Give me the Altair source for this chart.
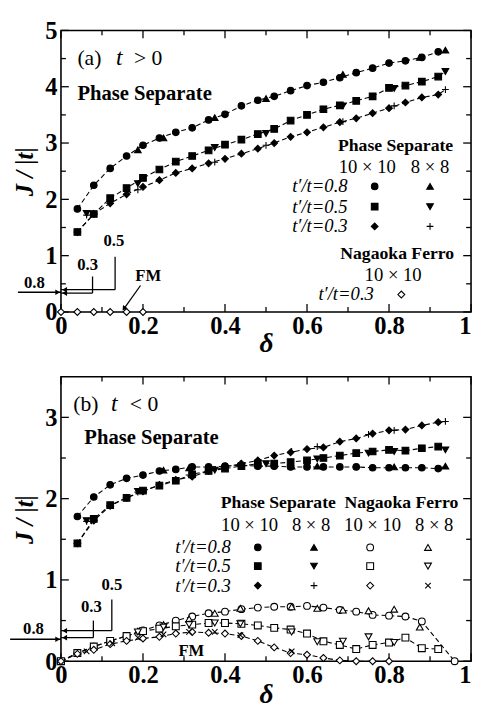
import altair as alt
import pandas as pd

FONT = "Liberation Serif"

# ---------------- Panel (a): t > 0 ----------------
a_d10 = [0.04, 0.08, 0.12, 0.16, 0.20, 0.24, 0.28, 0.32, 0.36, 0.40, 0.44, 0.48,
         0.52, 0.56, 0.60, 0.64, 0.68, 0.72, 0.76, 0.80, 0.84, 0.88, 0.92]
a_ps10_08 = [1.83, 2.25, 2.55, 2.77, 2.96, 3.09, 3.19, 3.27, 3.41, 3.51, 3.66, 3.76,
             3.83, 3.93, 4.02, 4.08, 4.16, 4.25, 4.33, 4.42, 4.46, 4.52, 4.62]
a_ps10_05 = [1.42, 1.74, 2.02, 2.20, 2.38, 2.53, 2.67, 2.77, 2.87, 2.97, 3.06, 3.16,
             3.25, 3.40, 3.50, 3.60, 3.67, 3.75, 3.83, 3.98, 4.02, 4.09, 4.18]
a_ps10_03 = [1.42, 1.74, 1.93, 2.09, 2.22, 2.34, 2.47, 2.55, 2.64, 2.72, 2.81, 2.90,
             3.00, 3.11, 3.19, 3.28, 3.37, 3.44, 3.53, 3.62, 3.72, 3.81, 3.86]
a_d8 = [0.0625, 0.1875, 0.375, 0.5, 0.6875, 0.8125, 0.9375]
a_d8_08 = [0.1875, 0.25, 0.375, 0.5, 0.6875, 0.875, 0.9375]
a_ps8_08 = [2.88, 3.09, 3.45, 3.79, 4.22, 4.52, 4.65]
a_ps8_05 = [1.75, 2.28, 2.92, 3.17, 3.66, 3.97, 4.27]
a_ps8_03 = [1.72, 2.17, 2.66, 2.96, 3.38, 3.66, 3.95]
a_nf_d = [0.0, 0.04, 0.08, 0.12, 0.16, 0.20]
a_nf10_03 = [0.0, 0.0, 0.0, 0.0, 0.0, 0.0]

# ---------------- Panel (b): t < 0 ----------------
b_d10 = a_d10
b_ps10_08 = [1.78, 2.02, 2.17, 2.25, 2.29, 2.34, 2.36, 2.39, 2.39, 2.40, 2.41, 2.40,
             2.40, 2.39, 2.39, 2.39, 2.39, 2.39, 2.38, 2.38, 2.38, 2.38, 2.37]
b_ps10_05 = [1.45, 1.75, 1.92, 2.01, 2.10, 2.16, 2.22, 2.30, 2.34, 2.37, 2.40, 2.43,
             2.43, 2.45, 2.47, 2.50, 2.53, 2.56, 2.58, 2.60, 2.59, 2.62, 2.64]
b_ps10_03 = [1.45, 1.73, 1.91, 2.01, 2.09, 2.17, 2.23, 2.27, 2.34, 2.39, 2.43, 2.47,
             2.53, 2.57, 2.61, 2.63, 2.70, 2.74, 2.80, 2.84, 2.85, 2.90, 2.94]
b_d8_08 = [0.25, 0.3125, 0.5625, 0.625, 0.8125, 0.9375]
b_ps8_08 = [2.35, 2.38, 2.40, 2.40, 2.39, 2.40]
b_d8_05 = [0.0625, 0.1875, 0.375, 0.5, 0.625, 0.75, 0.8125, 0.9375]
b_ps8_05 = [1.73, 2.09, 2.35, 2.43, 2.49, 2.56, 2.58, 2.60]
b_d8_03 = [0.0625, 0.1875, 0.3125, 0.4375, 0.5625, 0.625, 0.75, 0.8125, 0.9375]
b_ps8_03 = [1.72, 2.08, 2.29, 2.43, 2.58, 2.64, 2.79, 2.84, 2.95]

b_nf_d08 = [0.0, 0.04, 0.08, 0.12, 0.16, 0.20, 0.24, 0.28, 0.32, 0.36, 0.40, 0.44,
            0.48, 0.52, 0.56, 0.60, 0.64, 0.68, 0.72, 0.76, 0.80, 0.84, 0.88, 0.96]
b_nf10_08 = [0.0, 0.10, 0.18, 0.25, 0.31, 0.38, 0.44, 0.50, 0.55, 0.59, 0.61, 0.64,
             0.66, 0.67, 0.67, 0.68, 0.66, 0.63, 0.61, 0.57, 0.56, 0.55, 0.49, 0.0]
b_nf_d05 = [0.0, 0.04, 0.08, 0.12, 0.16, 0.20, 0.24, 0.28, 0.32, 0.36, 0.40, 0.44,
            0.48, 0.52, 0.56, 0.60, 0.64, 0.68, 0.72, 0.76, 0.80, 0.84, 0.88, 0.92]
b_nf10_05 = [0.0, 0.10, 0.18, 0.25, 0.31, 0.37, 0.40, 0.43, 0.45, 0.47, 0.47, 0.46,
             0.44, 0.41, 0.39, 0.34, 0.245, 0.20, 0.15, 0.20, 0.23, 0.29, 0.16, 0.15]
b_nf_d03 = [0.0, 0.04, 0.08, 0.12, 0.16, 0.20, 0.24, 0.28, 0.32, 0.36, 0.40, 0.44,
            0.48, 0.52, 0.56, 0.60, 0.64, 0.68, 0.72, 0.76, 0.80]
b_nf10_03 = [0.0, 0.09, 0.14, 0.21, 0.25, 0.28, 0.30, 0.34, 0.36, 0.35, 0.34, 0.31,
             0.25, 0.17, 0.10, 0.08, 0.04, 0.01, 0.0, 0.0, 0.0]
b_nf8_d08 = [0.1875, 0.25, 0.3125, 0.375, 0.4375, 0.5625, 0.625, 0.6875, 0.75, 0.8125, 0.875]
b_nf8_08 = [0.37, 0.45, 0.52, 0.59, 0.65, 0.67, 0.65, 0.63, 0.62, 0.64, 0.42]
b_nf8_d05 = [0.1875, 0.25, 0.3125, 0.375, 0.4375, 0.5625, 0.625, 0.6875, 0.75, 0.8125]
b_nf8_05 = [0.36, 0.42, 0.45, 0.47, 0.46, 0.36, 0.24, 0.245, 0.30, 0.23]
b_nf8_d03 = [0.0625, 0.125, 0.1875, 0.25, 0.3125, 0.375, 0.4375, 0.5625]
b_nf8_03 = [0.12, 0.22, 0.29, 0.33, 0.36, 0.36, 0.32, 0.12]

# tick values
X_MAJOR = [0, 0.2, 0.4, 0.6, 0.8, 1.0]
X_MINOR = [0.1, 0.3, 0.5, 0.7, 0.9]
A_Y_MAJOR = [0, 1, 2, 3, 4, 5]
A_Y_MINOR = [0.5, 1.5, 2.5, 3.5, 4.5]
B_Y_MAJOR = [0, 1, 2, 3]
B_Y_MINOR = [0.5, 1.5, 2.5]

# ---------------- symbol styles ----------------
PLUS = "M-1,0L1,0M0,-1L0,1"
CROSS = "M-0.8,-0.8L0.8,0.8M-0.8,0.8L0.8,-0.8"
KEYS = ["PS10_08", "PS8_08", "PS10_05", "PS8_05", "PS10_03", "PS8_03",
        "NF10_08", "NF8_08", "NF10_05", "NF8_05", "NF10_03", "NF8_03"]
SHAPES = ["circle", "triangle-up", "square", "triangle-down", "diamond", PLUS,
          "circle", "triangle-up", "square", "triangle-down", "diamond", CROSS]
FILLS = ["black", "black", "black", "black", "black", "white",
         "white", "white", "white", "white", "white", "white"]
SIZES = [45, 50, 38, 50, 70, 45, 24, 55, 30, 55, 80, 32]


def series_df(pairs):
    rows = []
    for key, ds, js in pairs:
        for d, j in zip(ds, js):
            rows.append({"d": d, "J": j, "s": key})
    return pd.DataFrame(rows)


def lines_df(pairs):
    rows = []
    for g, ds, js in pairs:
        for d, j in zip(ds, js):
            rows.append({"d": d, "J": j, "g": g})
    return pd.DataFrame(rows)


a_points = series_df([
    ("PS10_08", a_d10, a_ps10_08), ("PS8_08", a_d8_08, a_ps8_08),
    ("PS10_05", a_d10, a_ps10_05), ("PS8_05", a_d8, a_ps8_05),
    ("PS10_03", a_d10, a_ps10_03), ("PS8_03", a_d8, a_ps8_03),
    ("NF10_03", a_nf_d, a_nf10_03),
])
a_lines = lines_df([
    ("08", a_d10 + a_d8_08[-1:], a_ps10_08 + a_ps8_08[-1:]),
    ("05", a_d10 + a_d8[-1:], a_ps10_05 + a_ps8_05[-1:]),
    ("03", a_d10 + a_d8[-1:], a_ps10_03 + a_ps8_03[-1:]),
])
b_points = series_df([
    ("NF10_08", b_nf_d08, b_nf10_08), ("NF8_08", b_nf8_d08, b_nf8_08),
    ("NF10_05", b_nf_d05, b_nf10_05), ("NF8_05", b_nf8_d05, b_nf8_05),
    ("NF10_03", b_nf_d03, b_nf10_03), ("NF8_03", b_nf8_d03, b_nf8_03),
    ("PS10_08", b_d10, b_ps10_08), ("PS8_08", b_d8_08, b_ps8_08),
    ("PS10_05", b_d10, b_ps10_05), ("PS8_05", b_d8_05, b_ps8_05),
    ("PS10_03", b_d10, b_ps10_03), ("PS8_03", b_d8_03, b_ps8_03),
])
b_lines = lines_df([
    ("p08", b_d10 + b_d8_08[-1:], b_ps10_08 + b_ps8_08[-1:]),
    ("p05", b_d10 + b_d8_05[-1:], b_ps10_05 + b_ps8_05[-1:]),
    ("p03", b_d10 + b_d8_03[-1:], b_ps10_03 + b_ps8_03[-1:]),
    ("n08", b_nf_d08, b_nf10_08),
    ("n05", b_nf_d05, b_nf10_05),
    ("n03", b_nf_d03, b_nf10_03),
])

# ---------------- legends / annotations (data coordinates) ----------------
a_leg = pd.DataFrame([
    {"d": 0.765, "J": 2.23, "s": "PS10_08"}, {"d": 0.90, "J": 2.23, "s": "PS8_08"},
    {"d": 0.765, "J": 1.87, "s": "PS10_05"}, {"d": 0.90, "J": 1.87, "s": "PS8_05"},
    {"d": 0.765, "J": 1.52, "s": "PS10_03"}, {"d": 0.90, "J": 1.52, "s": "PS8_03"},
    {"d": 0.83, "J": 0.31, "s": "NF10_03"},
])
b_leg_cols = [("PS10", 0.48), ("PS8", 0.617), ("NF10", 0.754), ("NF8", 0.895)]
b_leg_rows = [("08", 1.40), ("05", 1.17), ("03", 0.93)]
b_leg = pd.DataFrame([{"d": cx, "J": ry, "s": c + "_" + r}
                      for r, ry in b_leg_rows for c, cx in b_leg_cols])

# (d, J, text, fontsize, align, weight, style)
a_texts = [
    (0.04, 4.50, "(a)", 22, "left", "normal", "normal"),
    (0.134, 4.50, "t", 24, "left", "normal", "italic"),
    (0.178, 4.50, "> 0", 22, "left", "normal", "normal"),
    (0.04, 3.87, "Phase Separate", 21, "left", "bold", "normal"),
    (0.816, 2.94, "Phase Separate", 18, "center", "bold", "normal"),
    (0.747, 2.57, "10 × 10", 19, "center", "normal", "normal"),
    (0.90, 2.57, "8 × 8", 19, "center", "normal", "normal"),
    (0.699, 2.23, "t′/t=0.8", 19, "right", "normal", "italic"),
    (0.699, 1.87, "t′/t=0.5", 19, "right", "normal", "italic"),
    (0.699, 1.52, "t′/t=0.3", 19, "right", "normal", "italic"),
    (0.82, 1.03, "Nagaoka Ferro", 18, "center", "bold", "normal"),
    (0.81, 0.66, "10 × 10", 19, "center", "normal", "normal"),
    (0.763, 0.31, "t′/t=0.3", 19, "right", "normal", "italic"),
    (-0.065, 0.52, "0.8", 17, "center", "bold", "normal"),
    (0.065, 0.84, "0.3", 17, "center", "bold", "normal"),
    (0.129, 1.25, "0.5", 17, "center", "bold", "normal"),
    (0.213, 0.64, "FM", 17, "center", "bold", "normal"),
]
b_texts = [
    (0.03, 3.16, "(b)", 22, "left", "normal", "normal"),
    (0.122, 3.16, "t", 24, "left", "normal", "italic"),
    (0.168, 3.16, "< 0", 22, "left", "normal", "normal"),
    (0.057, 2.74, "Phase Separate", 21, "left", "bold", "normal"),
    (0.53, 1.94, "Phase Separate", 18, "center", "bold", "normal"),
    (0.83, 1.94, "Nagaoka Ferro", 18, "center", "bold", "normal"),
    (0.46, 1.68, "10 × 10", 19, "center", "normal", "normal"),
    (0.61, 1.68, "8 × 8", 19, "center", "normal", "normal"),
    (0.76, 1.68, "10 × 10", 19, "center", "normal", "normal"),
    (0.91, 1.68, "8 × 8", 19, "center", "normal", "normal"),
    (0.414, 1.40, "t′/t=0.8", 19, "right", "normal", "italic"),
    (0.414, 1.17, "t′/t=0.5", 19, "right", "normal", "italic"),
    (0.414, 0.93, "t′/t=0.3", 19, "right", "normal", "italic"),
    (0.318, 0.13, "FM", 17, "center", "bold", "normal"),
    (0.124, 0.94, "0.5", 17, "center", "bold", "normal"),
    (0.074, 0.67, "0.3", 17, "center", "bold", "normal"),
    (-0.067, 0.39, "0.8", 17, "center", "bold", "normal"),
]
# segments (d, J, d2, J2)
a_segs = [(-0.105, 0.35, 0.0, 0.35), (0.077, 0.63, 0.077, 0.335), (0.077, 0.335, 0.0, 0.335),
          (0.132, 0.98, 0.132, 0.395), (0.132, 0.395, 0.0, 0.395), (0.194, 0.47, 0.152, 0.04)]
a_heads = [(-0.008, 0.35, "triangle-right", 0), (0.009, 0.335, "triangle-left", 0),
           (0.009, 0.395, "triangle-left", 0), (0.1535, 0.06, "triangle-down", 35)]
b_segs = [(-0.124, 0.27, 0.0, 0.27), (0.079, 0.50, 0.079, 0.29), (0.079, 0.29, 0.0, 0.29),
          (0.124, 0.76, 0.124, 0.375), (0.124, 0.375, 0.0, 0.375)]
b_heads = [(-0.008, 0.27, "triangle-right", 0), (0.009, 0.29, "triangle-left", 0),
           (0.009, 0.375, "triangle-left", 0)]

W = 418
TICK_MAJ = 8
TICK_MIN = 5


def make_panel(points, lines, legpts, texts, segs, heads, ymax, ymaj, ymin, H, tpad):
    xs = alt.Scale(domain=[0, 1], nice=False, zero=False)
    ys = alt.Scale(domain=[0, ymax], nice=False, zero=False)
    xaxis = alt.Axis(values=X_MAJOR, labelExpr="format(datum.value, '~g')", ticks=False,
                     tickSize=0, domain=False, grid=False, labelFont=FONT, labelFontSize=25,
                     labelFontWeight="bold",
                     labelPadding=2, labelColor="black", labelFlush=False,
                     labelAlign={"condition": {"test": "datum.value >= 1", "value": "right"},
                                 "value": "center"},
                     labelOverlap=False, title="δ", titleFont=FONT,
                     titleFontStyle="italic", titleFontSize=28, titleFontWeight="bold",
                     titleColor="black", titlePadding=tpad)
    yaxis = alt.Axis(values=ymaj, labelExpr="format(datum.value, '~g')", ticks=False,
                     tickSize=0, domain=False, grid=False, labelFont=FONT, labelFontSize=25,
                     labelFontWeight="bold",
                     labelPadding=4, labelColor="black", labelFlush=False,
                     labelOverlap=False, title="J / |t|", titleFont=FONT,
                     titleFontStyle="italic", titleFontSize=25, titleFontWeight="bold",
                     titleColor="black", titlePadding=8)
    X = alt.X("d:Q", scale=xs, axis=xaxis)
    Y = alt.Y("J:Q", scale=ys, axis=yaxis)
    enc_sym = dict(
        shape=alt.Shape("s:N", scale=alt.Scale(domain=KEYS, range=SHAPES), legend=None),
        fill=alt.Fill("s:N", scale=alt.Scale(domain=KEYS, range=FILLS), legend=None),
        size=alt.Size("s:N", scale=alt.Scale(domain=KEYS, range=SIZES), legend=None),
    )
    layers = []
    # ticks (inward, on all four sides)
    for vals, ln in ((X_MAJOR, TICK_MAJ), (X_MINOR, TICK_MIN)):
        df = pd.DataFrame({"d": vals})
        layers.append(alt.Chart(df).mark_rule(color="black", strokeWidth=1.3).encode(
            x=X, y=alt.value(H), y2=alt.value(H - ln)))
        layers.append(alt.Chart(df).mark_rule(color="black", strokeWidth=1.3).encode(
            x=X, y=alt.value(0), y2=alt.value(ln)))
    for vals, ln in ((ymaj, TICK_MAJ), (ymin, TICK_MIN)):
        df = pd.DataFrame({"J": vals})
        layers.append(alt.Chart(df).mark_rule(color="black", strokeWidth=1.3).encode(
            y=Y, x=alt.value(0), x2=alt.value(ln)))
        layers.append(alt.Chart(df).mark_rule(color="black", strokeWidth=1.3).encode(
            y=Y, x=alt.value(W), x2=alt.value(W - ln)))
    # dashed curves
    layers.append(alt.Chart(lines).mark_line(color="black", strokeWidth=1.1,
                                             strokeDash=[5, 3]).encode(
        x=X, y=Y, detail="g:N", order="d:Q"))
    # data points
    layers.append(alt.Chart(points).mark_point(filled=True, stroke="black", strokeWidth=1.1,
                                               opacity=1).encode(x=X, y=Y, **enc_sym))
    # legend symbols
    layers.append(alt.Chart(legpts).mark_point(filled=True, stroke="black", strokeWidth=1.1,
                                               opacity=1).encode(x=X, y=Y, **enc_sym))
    # annotation segments & arrow heads
    sdf = pd.DataFrame(segs, columns=["d", "J", "d2", "J2"])
    layers.append(alt.Chart(sdf).mark_rule(color="black", strokeWidth=1.3).encode(
        x=X, y=Y, x2="d2:Q", y2="J2:Q"))
    hdf = pd.DataFrame(heads, columns=["d", "J", "shp", "ang"])
    layers.append(alt.Chart(hdf).mark_point(filled=True, color="black", size=32,
                                            opacity=1).encode(
        x=X, y=Y, shape=alt.Shape("shp:N", scale=None, legend=None),
        angle=alt.Angle("ang:Q", scale=None)))
    # texts
    tdf = pd.DataFrame(texts, columns=["d", "J", "text", "fs", "align", "weight", "style"])
    for (al, wt, st), grp in tdf.groupby(["align", "weight", "style"]):
        layers.append(alt.Chart(grp).mark_text(font=FONT, align=al, baseline="middle",
                                               fontWeight=wt, fontStyle=st,
                                               color="black").encode(
            x=X, y=Y, text="text:N", size=alt.Size("fs:Q", scale=None, legend=None)))
    return alt.layer(*layers).properties(width=W, height=H)


pa = make_panel(a_points, a_lines, a_leg, a_texts, a_segs, a_heads, 5, A_Y_MAJOR, A_Y_MINOR,
                287, -9)
pb = make_panel(b_points, b_lines, b_leg, b_texts, b_segs, b_heads, 3.5, B_Y_MAJOR, B_Y_MINOR,
                290, -7)

chart = alt.vconcat(pa, pb, spacing=17).resolve_scale(
    x="independent", y="independent"
).properties(
    padding={"left": 0, "top": 3, "right": 0, "bottom": 0},
    background="white",
).configure_view(stroke="black", strokeWidth=1.6)

chart.save("out.html", embed_options={"renderer": "svg", "actions": False})
